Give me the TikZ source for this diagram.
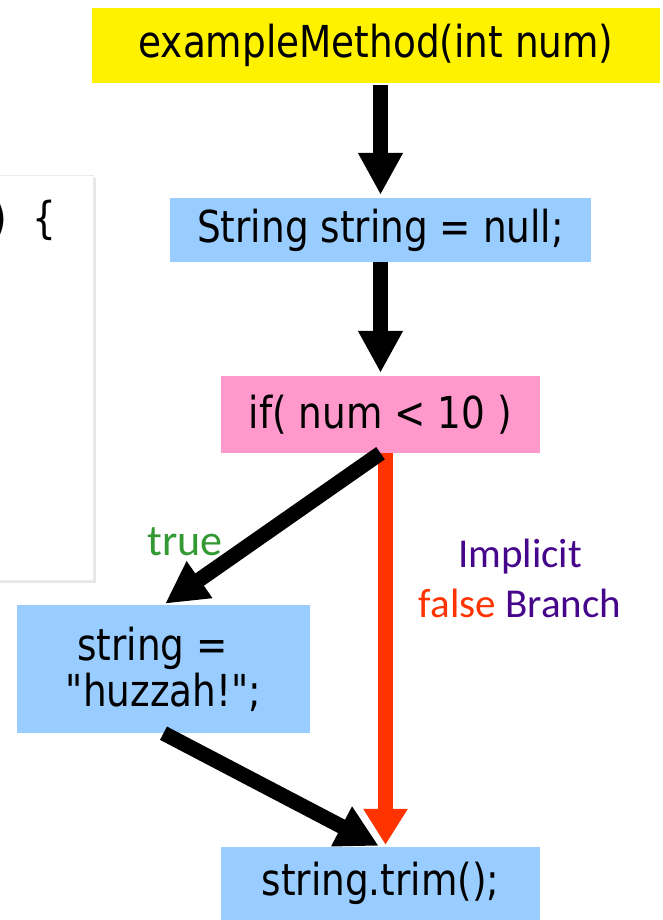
\documentclass[tikz,border=0pt]{standalone}
\usepackage{fontspec}
\setmainfont[FakeStretch=0.85, Ligatures=TeXOff]{DejaVu Sans}
\newfontfamily\lblfont{Carlito}
\usetikzlibrary{arrows.meta,shadows}

\definecolor{stmtblue}{HTML}{99CCFF}
\definecolor{condpink}{HTML}{FF99CC}
\definecolor{flame}{HTML}{FF3300}
\definecolor{leaf}{HTML}{339933}
\definecolor{plum}{HTML}{45068C}

\begin{document}
\begin{tikzpicture}[x=1pt,y=-1pt,
  stmt/.style={inner sep=0pt, font=\fontsize{44}{46}\selectfont},
  lbl/.style={inner sep=0pt, font=\lblfont\fontsize{41}{50}\selectfont},
  flow/.style={line width=15pt, -{Triangle[width=42pt,length=42pt]},
               shorten >=2pt}]
\useasboundingbox (0,0) rectangle (663,920);
% source panel behind the graph
\node[draw=black!8, fill=white,
      drop shadow={shadow xshift=3pt, shadow yshift=-3pt, opacity=.2},
      minimum width=110pt, minimum height=405pt, anchor=north east]
      (P) at (93,175) {};
\node[stmt, anchor=base east] (Pt) at (57,233) {)\hspace{26pt}\{};
% statements
\node[stmt, fill=yellow,    minimum width=568pt, minimum height=75pt]  (M) at (376,45.5)   {exampleMethod(int num)};
\node[stmt, fill=stmtblue,  minimum width=421pt, minimum height=64pt]  (S) at (380.5,230)  {String string = null;};
\node[stmt, fill=condpink,  minimum width=319pt, minimum height=77pt]  (C) at (380.5,414.5) {if( num < 10 )};
\node[stmt, fill=stmtblue,  minimum width=293pt, minimum height=128pt, align=center]
      (H) at (163.5,669) {string =\phantom{x}\\"huzzah!";};
\node[stmt, fill=stmtblue,  minimum width=319pt, minimum height=73pt]  (T) at (380.5,883.5) {string.trim();};
% branch labels
\node[lbl, text=leaf, font=\lblfont\fontsize{44}{50}\selectfont] (L) at (185,542) {true};
\node[lbl, text=plum, align=center] (F) at (520,578) {Implicit\\\textcolor{flame}{false} Branch};
% edges
\draw[flow, flame, -{Triangle[width=42pt,length=36pt]}]
      ([xshift=5pt]C.south) -- ([xshift=5pt]T.north);
\draw[flow, shorten <=2pt, shorten >=3pt] (M.south -| S.north) -- (S.north);
\draw[flow, shorten >=3pt] (S.south) -- (C.north);
\draw[flow] (C.south) -- (H.north);
\draw[flow] (H.south) -- (T.north);
\end{tikzpicture}
\end{document}
